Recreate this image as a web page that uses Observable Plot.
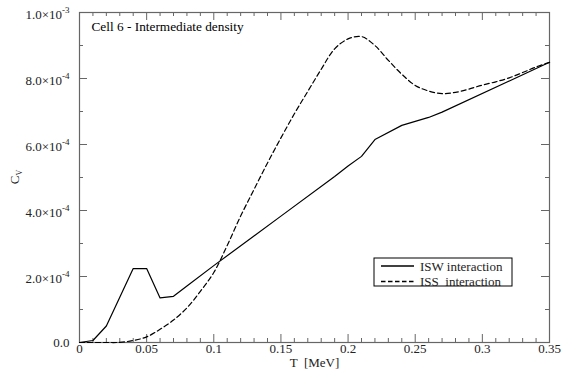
<!DOCTYPE html>
<html><head><meta charset="utf-8">
<script src="https://cdn.jsdelivr.net/npm/d3@7"></script>
<script src="https://cdn.jsdelivr.net/npm/@observablehq/plot@0.6"></script>
<style>body{margin:0;background:#fff}</style>
</head><body><div id="chart"></div>
<script>
// ISW interaction (solid)
const iswT  = [0, 0.01, 0.02, 0.03, 0.04, 0.05, 0.06, 0.07, 0.08, 0.10, 0.15, 0.19, 0.20, 0.21, 0.22, 0.24, 0.26, 0.27, 0.35];
const iswCv = [0, 0.06e-4, 0.50e-4, 1.37e-4, 2.24e-4, 2.24e-4, 1.35e-4, 1.40e-4, 1.71e-4, 2.33e-4, 3.83e-4, 5.03e-4, 5.35e-4, 5.64e-4, 6.15e-4, 6.58e-4, 6.82e-4, 6.98e-4, 8.49e-4];
// ISS interaction (dashed)
const issT  = [0, 0.01, 0.02, 0.03, 0.04, 0.05, 0.06, 0.07, 0.08, 0.09, 0.10, 0.11, 0.12, 0.13, 0.14, 0.15, 0.16, 0.17, 0.18, 0.19, 0.20, 0.21, 0.22, 0.23, 0.24, 0.25, 0.26, 0.27, 0.28, 0.29, 0.30, 0.31, 0.32, 0.33, 0.34, 0.35];
const issCv = [0, 0, 0, 0.005e-4, 0.06e-4, 0.17e-4, 0.40e-4, 0.68e-4, 1.05e-4, 1.55e-4, 2.12e-4, 2.94e-4, 3.83e-4, 4.64e-4, 5.44e-4, 6.20e-4, 6.93e-4, 7.61e-4, 8.28e-4, 8.90e-4, 9.20e-4, 9.27e-4, 9.00e-4, 8.55e-4, 8.13e-4, 7.79e-4, 7.62e-4, 7.54e-4, 7.58e-4, 7.68e-4, 7.80e-4, 7.90e-4, 8.02e-4, 8.18e-4, 8.35e-4, 8.49e-4];

const xMajor = [0, 0.05, 0.1, 0.15, 0.2, 0.25, 0.3, 0.35];
const xMinor = [0.01,0.02,0.03,0.04,0.06,0.07,0.08,0.09,0.11,0.12,0.13,0.14,0.16,0.17,0.18,0.19,0.21,0.22,0.23,0.24,0.26,0.27,0.28,0.29,0.31,0.32,0.33,0.34];
const xLabels = ["0", "0.05", "0.1", "0.15", "0.2", "0.25", "0.3", "0.35"];
const yMajor = [0, 2e-4, 4e-4, 6e-4, 8e-4, 1e-3];
const yMinor = [1e-4, 3e-4, 5e-4, 7e-4, 9e-4];
const yLabels = ["0.0", "2.0×10^-4", "4.0×10^-4", "6.0×10^-4", "8.0×10^-4", "1.0×10^-3"];
const annotation = "Cell 6 - Intermediate density";
const seriesNames = ["ISW interaction", "ISS  interaction"];
const xTitle = "T  [MeV]";

const FONT = "Liberation Serif";
const W = 561, H = 376, mL = 79, mR = 12, mT = 12, mB = 34;
const innerH = H - mT - mB, innerW = W - mL - mR;
const axisColor = "#666";
const ink = "#222";

const isw = iswT.map((t, i) => ({t, cv: iswCv[i]}));
const iss = issT.map((t, i) => ({t, cv: issCv[i]}));

const plot = Plot.plot({
  width: W, height: H,
  marginLeft: mL, marginRight: mR, marginTop: mT, marginBottom: mB,
  style: `font-family: '${FONT}', serif; font-size: 13px; background: #fff;`,
  x: {domain: [0, 0.35], axis: null},
  y: {domain: [0, 1e-3], axis: null},
  marks: [
    // ticks, pointing inward on all four sides
    Plot.tickX(xMajor, {x: d => d, insetTop: innerH - 8, stroke: axisColor}),
    Plot.tickX(xMajor, {x: d => d, insetBottom: innerH - 8, stroke: axisColor}),
    Plot.tickX(xMinor, {x: d => d, insetTop: innerH - 4, stroke: axisColor}),
    Plot.tickX(xMinor, {x: d => d, insetBottom: innerH - 4, stroke: axisColor}),
    Plot.tickY(yMajor, {y: d => d, insetRight: innerW - 8, stroke: axisColor}),
    Plot.tickY(yMajor, {y: d => d, insetLeft: innerW - 8, stroke: axisColor}),
    Plot.tickY(yMinor, {y: d => d, insetRight: innerW - 4, stroke: axisColor}),
    Plot.tickY(yMinor, {y: d => d, insetLeft: innerW - 4, stroke: axisColor}),
    Plot.frame({stroke: axisColor, strokeWidth: 1.2}),
    // tick labels
    Plot.text(xMajor, {x: d => d, text: (d, i) => xLabels[i], frameAnchor: "bottom", dy: 10, fill: ink, fontSize: 13, fontFamily: FONT}),
    Plot.text(yMajor, {y: d => d, text: (d, i) => yLabels[i], frameAnchor: "left", dx: -10, textAnchor: "end", fill: ink, fontSize: 13, fontFamily: FONT}),
    Plot.text([xTitle], {frameAnchor: "bottom", dy: 24, text: d => d, fill: ink, fontSize: 13, fontFamily: FONT}),
    Plot.text([annotation], {frameAnchor: "top-left", dx: 12, dy: 18, text: d => d, fill: "#000", fontSize: 13.3, lineAnchor: "bottom", fontFamily: FONT}),
    // data
    Plot.line(isw, {x: "t", y: "cv", stroke: "#000", strokeWidth: 1.2}),
    Plot.line(iss, {x: "t", y: "cv", stroke: "#000", strokeWidth: 1.2, strokeDasharray: "5,3", curve: "catmull-rom"})
  ]
});

document.getElementById("chart").append(plot);
const svg = d3.select(plot);

// superscripts on y tick labels
svg.selectAll("text").each(function() {
  const t = this.textContent;
  if (t.includes("^")) {
    const [base, exp] = t.split("^");
    const sel = d3.select(this);
    sel.selectAll("tspan").remove();
    sel.text(null);
    sel.append("tspan").attr("dy", "2").text(base);
    sel.append("tspan").attr("dy", "-6").attr("font-size", "9").text(exp);
  }
});

// y-axis title C_v
const yt = svg.append("text")
  .attr("transform", `translate(18.5,177) rotate(-90)`)
  .attr("text-anchor", "middle").attr("fill", ink).attr("font-size", 13).attr("font-family", FONT);
yt.append("tspan").text("C");
yt.append("tspan").attr("font-size", 8).attr("dy", 3).text("V");

// legend
const lg = svg.append("g").attr("transform", "translate(374,258)").attr("text-anchor", "start").attr("font-family", FONT);
lg.append("rect").attr("width", 138).attr("height", 28).attr("fill", "#fff").attr("stroke", "#000").attr("stroke-width", 1);
lg.append("line").attr("x1", 7).attr("x2", 40).attr("y1", 8).attr("y2", 8).attr("stroke", "#000").attr("stroke-width", 1.3);
lg.append("line").attr("x1", 7).attr("x2", 40).attr("y1", 23.5).attr("y2", 23.5).attr("stroke", "#000").attr("stroke-width", 1.3).attr("stroke-dasharray", "4.5,2.5");
lg.append("text").attr("x", 46).attr("y", 12.5).attr("font-size", 13).attr("fill", ink).text(seriesNames[0]);
lg.append("text").attr("x", 46).attr("y", 27.5).attr("font-size", 13).attr("fill", ink).style("white-space", "pre").text(seriesNames[1]);
</script>
</body></html>
